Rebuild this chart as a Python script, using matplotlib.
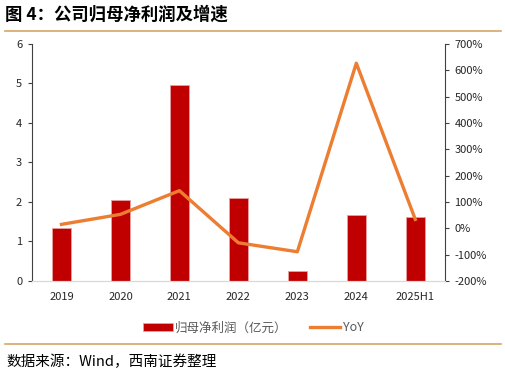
import matplotlib
matplotlib.use("Agg")
import matplotlib.pyplot as plt
from matplotlib.ticker import FuncFormatter, MultipleLocator
from matplotlib.lines import Line2D

plt.rcParams['font.family'] = ['Noto Sans CJK SC', 'DejaVu Sans']

categories = ["2019", "2020", "2021", "2022", "2023", "2024", "2025H1"]
profit = [1.35, 2.06, 4.95, 2.11, 0.25, 1.68, 1.63]
yoy = [15, 53, 143, -55, -89, 627, 34]

fig = plt.figure(figsize=(5.06, 3.76), dpi=100)
ax = fig.add_axes([0.0632, 0.2527, 0.8158, 0.6303])
ax2 = ax.twinx()

x = list(range(len(categories)))
bars = ax.bar(x, profit, width=0.32, color="#C00000", edgecolor="#E8A0A0", linewidth=0.6,
              label="归母净利润（亿元）", zorder=2)
line, = ax2.plot(x, yoy, color="#ED7D31", linewidth=2.4, label="YoY", zorder=3)

ax.set_xlim(-0.5, len(categories) - 0.5)
ax.set_ylim(0, 6)
ax.yaxis.set_major_locator(MultipleLocator(1))
ax2.set_ylim(-200, 700)
ax2.yaxis.set_major_locator(MultipleLocator(100))
ax2.yaxis.set_major_formatter(FuncFormatter(lambda v, p: f"{int(v)}%"))

ax.set_xticks(x)
ax.set_xticklabels(categories)
for a in (ax, ax2):
    a.spines['top'].set_visible(False)
    a.spines['bottom'].set_color("#D9D9D9")
    a.spines['left'].set_color("#404040")
    a.spines['right'].set_color("#404040")
    a.spines['left'].set_linewidth(0.8)
    a.spines['right'].set_linewidth(0.8)
ax2.spines['left'].set_visible(False)
ax.spines['right'].set_visible(False)

ax.tick_params(axis='x', length=0, labelsize=8, pad=8, colors="#262626")
ax.tick_params(axis='y', length=3, width=0.8, color="#404040", labelsize=8, labelcolor="#262626", pad=4)
ax2.tick_params(axis='y', length=3, width=0.8, color="#404040", labelsize=8, labelcolor="#262626", pad=4)

handles = [bars, Line2D([0], [0], color="#ED7D31", linewidth=2.4)]
leg = fig.legend(handles, ["归母净利润（亿元）", "YoY"], loc="center", bbox_to_anchor=(0.5, 0.128),
                 ncol=2, frameon=False, fontsize=9, handlelength=2.4, handleheight=0.6,
                 columnspacing=1.8, handletextpad=0.2)
for t in leg.get_texts():
    t.set_color("#595959")

fig.text(0.010, 0.960, "图 4：公司归母净利润及增速", fontsize=12.5, fontweight='bold',
         color="#000000", va='center', ha='left')
fig.add_artist(Line2D([0.01, 0.99], [0.918, 0.918], color="#D4A566", linewidth=1.2,
                      transform=fig.transFigure))
fig.add_artist(Line2D([0.01, 0.99], [0.085, 0.085], color="#D4A566", linewidth=1.2,
                      transform=fig.transFigure))
fig.text(0.012, 0.037, "数据来源：Wind，西南证券整理", fontsize=10.5, style='italic',
         color="#000000", va='center', ha='left')

fig.savefig("out.png", dpi=100)
